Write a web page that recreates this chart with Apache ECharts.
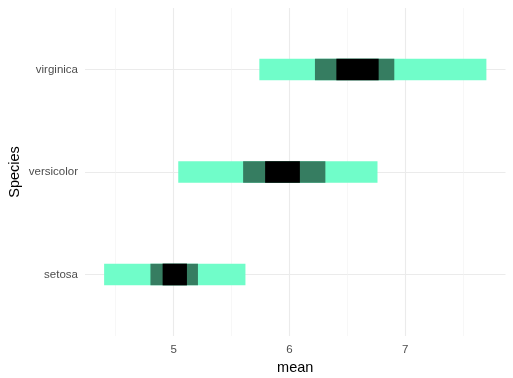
<!DOCTYPE html>
<html><head><meta charset="utf-8">
<script src="https://cdn.jsdelivr.net/npm/echarts@6/dist/echarts.min.js"></script>
<style>html,body{margin:0;padding:0;background:#fff}#c{width:513px;height:378px}</style>
</head><body><div id="c"></div>
<script>
const species = ['setosa', 'versicolor', 'virginica'];
const lo95 = [4.40, 5.04, 5.74];
const hi95 = [5.62, 6.76, 7.70];
const lo80 = [4.80, 5.60, 6.22];
const hi80 = [5.21, 6.31, 6.905];
const lo50 = [4.905, 5.79, 6.405];
const hi50 = [5.115, 6.09, 6.77];
const xTicks = [5, 6, 7];
const xMinor = [4.5, 5.5, 6.5, 7.5];
const levels = [
  {lo: lo95, hi: hi95, color: '#70FDC9'},
  {lo: lo80, hi: hi80, color: '#367D61'},
  {lo: lo50, hi: hi50, color: '#000000'}
];
const yPos = species.map((s, i) => i + 1);
const data = [];
levels.forEach((lv, li) => {
  species.forEach((s, i) => data.push([lv.lo[i], lv.hi[i], yPos[i], li]));
});
const font = 'Liberation Sans, Arial, Helvetica, sans-serif';
const chart = echarts.init(document.getElementById('c'));
chart.setOption({
  animation: false,
  grid: {left: 85, right: 7.5, top: 8, bottom: 42, outerBoundsMode: 'none'},
  xAxis: [{
    type: 'value', min: 4.235, max: 7.865,
    axisLine: {show: false}, axisTick: {show: false, customValues: xTicks},
    axisLabel: {customValues: xTicks, color: '#4D4D4D', fontSize: 11.5, fontFamily: font, margin: 8},
    splitLine: {show: true, lineStyle: {color: '#EBEBEB', width: 1.1}},
    name: 'mean', nameLocation: 'middle', nameGap: 24, nameMoveOverlap: false,
    nameTextStyle: {color: '#000', fontSize: 14.5, fontFamily: font}
  }, {
    type: 'value', min: 4.235, max: 7.865, position: 'bottom',
    axisLine: {show: false}, axisTick: {show: false, customValues: xMinor},
    axisLabel: {show: false, customValues: xMinor},
    splitLine: {show: true, lineStyle: {color: '#F2F2F2', width: 0.6}}
  }],
  yAxis: {
    type: 'value', min: 0.4, max: 3.6,
    axisLine: {show: false}, axisTick: {show: false, customValues: yPos},
    axisLabel: {customValues: yPos, color: '#4D4D4D', fontSize: 11.5, fontFamily: font, margin: 7,
      formatter: v => species[Math.round(v) - 1] || ''},
    splitLine: {show: true, lineStyle: {color: '#EBEBEB', width: 1.1}},
    name: 'Species', nameLocation: 'middle', nameGap: 63, nameMoveOverlap: false,
    nameTextStyle: {color: '#000', fontSize: 14.5, fontFamily: font}
  },
  series: [{
    type: 'custom',
    xAxisIndex: 0,
    data: data,
    encode: {x: [0, 1], y: 2},
    renderItem: function (params, api) {
      const a = api.coord([api.value(0), api.value(2)]);
      const b = api.coord([api.value(1), api.value(2)]);
      const h = api.size([0, 0.212])[1];
      const li = api.value(3);
      return {
        type: 'rect',
        shape: {x: a[0], y: a[1] - h / 2, width: b[0] - a[0], height: h},
        style: {fill: levels[li].color}
      };
    }
  }]
});
</script></body></html>
